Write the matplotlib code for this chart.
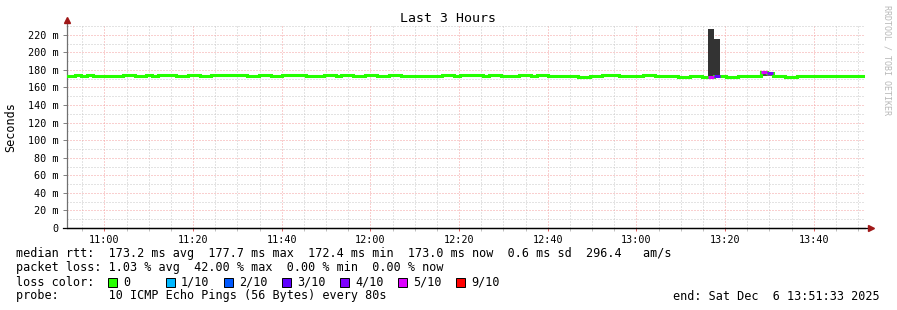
#SmokePing style latency chart, last 3 hours
import numpy as np
import matplotlib
matplotlib.use('Agg')
import matplotlib.pyplot as plt
import matplotlib.dates as mdates
from matplotlib.patches import Rectangle

W, H = 897, 310
MONO = 'DejaVu Sans Mono'

view_start = np.datetime64('2025-12-06T10:51:33')
view_end = np.datetime64('2025-12-06T13:51:33')
grid_start = np.datetime64('2025-12-06T10:50:48')  # rrd step boundary
step_s = 80

# median rtt per 80s step (ms)
median_ms = [
    173.0,
    173.0, 174.0, 173.0, 174.0, 173.0, 173.0, 173.0, 173.0, 173.0, 174.0,
    174.0, 173.0, 173.0, 174.0, 173.0, 174.0, 174.0, 174.0, 173.0, 173.0,
    174.0, 174.0, 173.0, 173.0, 174.0, 174.0, 174.0, 174.0, 174.0, 174.0,
    173.0, 173.0, 174.0, 174.0, 173.0, 173.0, 174.3, 174.3, 174.3, 174.3,
    173.0, 173.0, 173.0, 174.0, 174.0, 173.0, 174.0, 174.0, 173.0, 173.0,
    174.0, 174.0, 173.0, 173.0, 174.0, 174.0, 173.0, 173.0, 173.0, 173.0,
    173.0, 173.0, 173.0, 174.0, 174.0, 173.0, 174.0, 174.0, 174.0, 174.0,
    173.0, 174.0, 174.0, 173.0, 173.0, 173.0, 174.0, 174.0, 173.0, 174.0,
    174.0, 173.0, 173.0, 172.6, 172.6, 173.0, 172.4, 172.4, 173.0, 173.0,
    174.0, 174.0, 174.0, 173.0, 173.0, 173.0, 173.0, 174.0, 174.0, 173.0,
    173.0, 173.0, 173.0, 172.4, 172.4, 173.0, 173.0, 172.4, 172.4, 172.8,
    173.0, 172.4, 172.4, 173.0, 173.0, 173.0, 173.0, 177.7, 176.5, 173.0,
    173.0, 172.4, 172.4, 173.0, 173.0, 173.0, 173.0, 173.0, 173.0, 173.0,
    173.0, 173.0, 173.0, 173.0, 173.0,
]

# steps with packet loss (lost pings out of 10)
loss_idx = [109, 110, 118, 119]
loss_pings = [5, 3, 5, 4]

# smoke (spread of the 10 pings) where it shows outside the median line
smoke_idx = [65, 69, 84, 85, 109, 110, 118, 119, 130, 135]
smoke_lo = [171.6, 171.6, 171.4, 171.4, 172.4, 172.8, 173.2, 173.4, 171.8, 171.8]
smoke_hi = [174.0, 174.0, 172.6, 172.6, 226.8, 215.4, 177.7, 176.5, 173.0, 173.0]
smoke_gray = ['#c8c8c8', '#c8c8c8', '#c8c8c8', '#c8c8c8', '#333333',
              '#333333', '#4a4a4a', '#6a6a6a', '#d0d0d0', '#d0d0d0']

loss_labels = ['0', '1/10', '2/10', '3/10', '4/10', '5/10', '9/10']
loss_colors = ['#26ff00', '#00b8ff', '#0059ff', '#5e00ff', '#7e00ff', '#dd00ff', '#ff0000']
loss_level = {0: 0, 1: 1, 2: 2, 3: 3, 4: 4, 5: 5, 6: 5, 7: 5, 8: 5, 9: 6, 10: 6}

yticks_ms = [0, 20, 40, 60, 80, 100, 120, 140, 160, 180, 200, 220]

stats_line = 'median rtt:  173.2 ms avg  177.7 ms max  172.4 ms min  173.0 ms now  0.6 ms sd  296.4   am/s'
loss_line = 'packet loss: 1.03 % avg  42.00 % max  0.00 % min  0.00 % now'
probe_line = 'probe:       10 ICMP Echo Pings (56 Bytes) every 80s'
end_line = 'end: Sat Dec  6 13:51:33 2025'

n = len(median_ms)
edges = grid_start + np.arange(n + 1) * np.timedelta64(step_s, 's')
xe = mdates.date2num(edges)
dx = xe[1] - xe[0]
med = np.array(median_ms)

fig = plt.figure(figsize=(W / 100, H / 100), dpi=100)
fig.patch.set_facecolor('white')

L, R, T, B = 67, 865, 26, 228
ax = fig.add_axes([L / W, 1 - B / H, (R - L) / W, (B - T) / H])
ax.set_xlim(mdates.date2num(view_start), mdates.date2num(view_end))
ax.set_ylim(0, (B - T) / (194 / 220))

# grid
ax.set_yticks(yticks_ms)
ax.set_yticks([v + 10 for v in yticks_ms], minor=True)
ax.xaxis.set_major_locator(mdates.MinuteLocator(byminute=[0, 20, 40]))
ax.xaxis.set_minor_locator(mdates.MinuteLocator(byminute=range(0, 60, 5)))
ax.xaxis.set_major_formatter(mdates.DateFormatter('%H:%M'))
ax.grid(which='minor', color='#c8c8c8', lw=0.72, ls=(0, (1, 2)))
ax.grid(which='major', color='#f4a0a0', lw=0.72, ls=(0, (1, 2)))
ax.set_axisbelow(True)

ax.set_yticklabels(['0' if v == 0 else '%d m' % v for v in yticks_ms],
                   family=MONO, fontsize=7.3)
for lab in ax.get_xticklabels():
    lab.set_family(MONO)
    lab.set_fontsize(7.3)
ax.tick_params(axis='y', which='major', length=3, width=0.7, color='#808080', pad=3)
ax.tick_params(axis='y', which='minor', length=0)
ax.tick_params(axis='x', which='major', length=2, width=0.7, color='#e06060', pad=3)
ax.tick_params(axis='x', which='minor', length=2, width=0.7, color='#c0c0c0')

for s in ['top', 'right']:
    ax.spines[s].set_visible(False)
ax.spines['left'].set_color('#707070')
ax.spines['left'].set_linewidth(0.9)
ax.spines['bottom'].set_color('black')
ax.spines['bottom'].set_linewidth(0.9)

# axis arrows
ax.plot([0, 0], [1, 1.03], color='#707070', lw=0.9, transform=ax.transAxes, clip_on=False)
ax.plot([0], [1.03], marker='^', ms=4, color='#a01818', transform=ax.transAxes, clip_on=False)
ax.plot([-0.005, 1.005], [0, 0], color='black', lw=0.9, transform=ax.transAxes, clip_on=False)
ax.plot([1.008], [0], marker='>', ms=4, color='#a01818', transform=ax.transAxes, clip_on=False)

# smoke
for i, lo, hi, c in zip(smoke_idx, smoke_lo, smoke_hi, smoke_gray):
    ax.bar(xe[i], hi - lo, bottom=lo, width=dx, align='edge', color=c, lw=0, zorder=2)

# median line, green then loss colours on top
ax.step(xe, np.append(med, med[-1]), where='post', color=loss_colors[0], lw=2.2,
        solid_joinstyle='miter', solid_capstyle='butt', zorder=3)
for i, p in zip(loss_idx, loss_pings):
    ax.hlines(med[i], xe[i], xe[i + 1], colors=loss_colors[loss_level[p]], lw=2.2, zorder=4)

# texts
def fx(x):
    return x / W

def fy(y):
    return 1 - y / H

fig.text(fx(448), fy(19), 'Last 3 Hours', family=MONO, fontsize=9.5, ha='center', va='center')
fig.text(fx(11), fy(127), 'Seconds', family=MONO, fontsize=8.5, rotation=90, ha='center', va='center')
fig.text(fx(887), fy(5), 'RRDTOOL / TOBI OETIKER', family=MONO, fontsize=6, color='#b8b8b8',
         rotation=270, ha='center', va='top')

fs = 8.5
fig.text(fx(16), fy(254), stats_line, family=MONO, fontsize=fs, va='center')
fig.text(fx(16), fy(268), loss_line, family=MONO, fontsize=fs, va='center')
fig.text(fx(16), fy(282), 'loss color:', family=MONO, fontsize=fs, va='center')
for k, (lab, c) in enumerate(zip(loss_labels, loss_colors)):
    bx = 108 + k * 58
    fig.patches.append(Rectangle((fx(bx), fy(287)), 9 / W, 9 / H, transform=fig.transFigure,
                                 facecolor=c, edgecolor='black', lw=0.7))
    fig.text(fx(bx + 15), fy(282), lab, family=MONO, fontsize=fs, va='center')
fig.text(fx(16), fy(296), probe_line, family=MONO, fontsize=fs, va='center')
fig.text(fx(880), fy(296), end_line, family=MONO, fontsize=fs, va='center', ha='right')

fig.savefig('out.png', dpi=100, facecolor='white')
